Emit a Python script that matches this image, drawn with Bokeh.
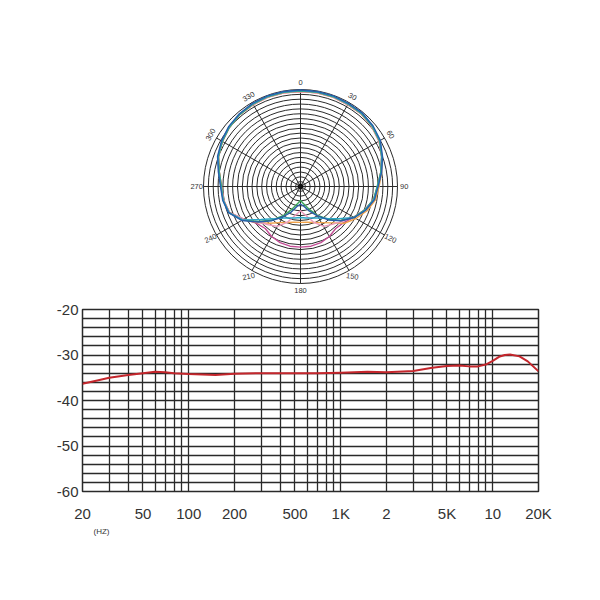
import numpy as np
from bokeh.plotting import figure
from bokeh.layouts import column
from bokeh.models import FixedTicker, Range1d, Title
from bokeh.core.properties import value
from bokeh.embed import file_html
from bokeh.resources import INLINE

# ---------------- polar pattern data (angle clockwise from top, radius in rings 0..20) -------------
polar_angles = list(range(0, 360, 10))
curve_blue = [19.9, 19.9, 19.9, 19.8, 19.8, 19.5, 19.0, 18.0, 17.0,
              16.0, 15.5, 14.3, 12.8, 11.0, 9.0, 7.0, 5.4, 4.2,
              3.6, 4.2, 5.6, 7.2, 9.2, 11.4, 14.0, 15.8, 16.3,
              16.5, 17.2, 18.2, 18.8, 19.3, 19.6, 19.8, 19.9, 19.9]
curve_teal = [19.8, 19.8, 19.8, 19.7, 19.7, 19.4, 18.9, 17.9, 16.9,
              15.9, 15.4, 14.2, 12.8, 10.3, 8.6, 7.5, 6.9, 6.6,
              6.4, 6.6, 6.9, 7.5, 8.7, 10.6, 13.8, 15.7, 16.2,
              16.4, 17.1, 18.1, 18.7, 19.2, 19.5, 19.7, 19.8, 19.8]
curve_green = [19.7, 19.7, 19.7, 19.6, 19.6, 19.3, 18.8, 17.8, 16.8,
               15.8, 15.3, 14.1, 12.7, 10.9, 8.8, 6.8, 4.9, 3.6,
               2.9, 3.6, 4.9, 6.9, 9.0, 11.2, 13.8, 15.7, 16.2,
               16.3, 17.0, 18.0, 18.6, 19.1, 19.4, 19.6, 19.7, 19.7]
curve_pink = [19.6, 19.6, 19.6, 19.5, 19.5, 19.2, 18.7, 17.8, 16.8,
              15.9, 15.3, 14.1, 12.6, 11.2, 10.2, 9.5, 7.8, 6.0,
              5.0, 6.0, 7.8, 9.5, 10.3, 11.4, 13.5, 15.6, 16.1,
              16.3, 17.0, 18.0, 18.6, 19.1, 19.4, 19.5, 19.6, 19.6]
curve_orange = [19.6, 19.6, 19.6, 19.5, 19.5, 19.2, 18.7, 17.9, 17.0,
                16.2, 15.7, 14.6, 13.2, 11.8, 9.8, 8.6, 7.9, 7.5,
                7.4, 7.5, 7.9, 8.6, 9.9, 11.6, 13.6, 15.6, 16.1,
                16.3, 17.0, 18.0, 18.6, 19.1, 19.4, 19.5, 19.6, 19.6]
curve_magenta = [19.6, 19.6, 19.6, 19.5, 19.5, 19.2, 18.7, 17.8, 16.8,
                 15.9, 15.3, 14.1, 12.7, 11.6, 11.3, 11.9, 12.3, 12.5,
                 12.5, 12.5, 12.3, 11.9, 11.3, 11.8, 13.5, 15.6, 16.1,
                 16.3, 17.0, 18.0, 18.6, 19.1, 19.4, 19.5, 19.6, 19.6]
polar_series = [
    (curve_magenta, "#c44d96"),
    (curve_orange, "#f0a24a"),
    (curve_pink, "#ec98bc"),
    (curve_green, "#3aa65a"),
    (curve_teal, "#2ba6c6"),
    (curve_blue, "#2a5ea8"),
]
ring_values = list(range(1, 21))
spoke_angles = [0, 30, 60, 90, 120, 150, 180, 210, 240, 270, 300, 330]
spoke_labels = ["0", "30", "60", "90", "120", "150", "180", "210", "240", "270", "300", "330"]
label_rotation_deg = [0, -30, -60, 0, -25, -8, 0, 12, 25, 0, 60, 30]

# ---------------- frequency response data -------------
freq_hz = [20, 25, 30, 40, 50, 60, 70, 80, 100, 150, 200, 300, 500, 700, 1000, 1500,
           2000, 3000, 4000, 5000, 6000, 7000, 8000, 9000, 10000, 11000, 12000, 13000,
           15000, 17000, 20000]
level_db = [-36.3, -35.6, -35.0, -34.4, -34.0, -33.7, -33.8, -34.0, -34.2, -34.4, -34.1,
            -34.0, -34.0, -34.0, -33.9, -33.7, -33.8, -33.5, -32.8, -32.4, -32.3, -32.5,
            -32.5, -32.1, -31.3, -30.4, -30.0, -29.9, -30.3, -31.4, -33.6]
x_tick_values = [20, 50, 100, 200, 500, 1000, 2000, 5000, 10000, 20000]
x_tick_labels = ["20", "50", "100", "200", "500", "1K", "2", "5K", "10", "20K"]
y_tick_values = [-60, -50, -40, -30, -20]
y_tick_labels = ["-60", "-50", "-40", "-30", "-20"]
x_grid_values = [20, 30, 40, 50, 60, 70, 80, 90, 100, 200, 300, 400, 500, 600, 700, 800, 900,
                 1000, 2000, 3000, 4000, 5000, 6000, 7000, 8000, 9000, 10000, 20000]
y_grid_values = list(range(-60, -19, 2))

FONT = "Liberation Sans"
GRID = "#2a2a2a"

W = 600
BL, BR = 82, 62             # shared left / right borders (frames are aligned in the column)
FW = W - BL - BR            # frame width = 456

# ================= polar figure =================
H1 = 300
ppu = 97.0 / 20.0            # pixels per ring unit
cx_f, cy_f = 300.0 - BL, 186.0  # centre in frame pixels (from frame left / figure top)
p1 = figure(width=W, height=H1, output_backend="svg", toolbar_location=None,
            x_range=Range1d(-cx_f / ppu, (FW - cx_f) / ppu),
            y_range=Range1d(-(H1 - cy_f) / ppu, cy_f / ppu),
            min_border_left=BL, min_border_right=BR,
            min_border_top=0, min_border_bottom=0)
p1.axis.visible = False
p1.grid.visible = False
p1.outline_line_color = None
p1.background_fill_color = "white"

# rings
p1.circle(x=[0] * len(ring_values), y=[0] * len(ring_values), radius=ring_values,
          fill_color=None, line_color=GRID, line_width=1.0)
# spokes
sa = np.radians(spoke_angles)
p1.segment(x0=[0] * 12, y0=[0] * 12, x1=list(20 * np.sin(sa)), y1=list(20 * np.cos(sa)),
           line_color=GRID, line_width=1.0)
p1.scatter(x=[0], y=[0], size=5, color="#111111")

# curves
for vals, col in polar_series:
    a = np.radians(polar_angles + [polar_angles[0]])
    r = np.array(vals + [vals[0]])
    p1.line(x=r * np.sin(a), y=r * np.cos(a), line_color=col, line_width=1.4,
            line_join="round")

# labels
lr = 21.4
p1.text(x=list(lr * np.sin(sa)), y=list(lr * np.cos(sa)), text=spoke_labels,
        angle=list(np.radians(label_rotation_deg)),
        text_font=value(FONT), text_font_size="7.5px", text_color="#333333",
        text_align="center", text_baseline="middle")

# ================= frequency response figure =================
H2 = 300
p2 = figure(width=W, height=H2, output_backend="svg", toolbar_location=None,
            x_axis_type="log", x_range=Range1d(20, 20000), y_range=Range1d(-60, -20),
            min_border_left=BL, min_border_right=BR, min_border_top=9, min_border_bottom=109)
p2.background_fill_color = "white"
p2.outline_line_color = GRID
p2.outline_line_width = 1.5

p2.xgrid.ticker = FixedTicker(ticks=x_grid_values)
p2.ygrid.ticker = FixedTicker(ticks=y_grid_values)
p2.grid.grid_line_color = GRID
p2.grid.grid_line_width = 1.3
p2.grid.grid_line_alpha = 1.0

p2.xaxis.ticker = FixedTicker(ticks=x_tick_values)
p2.xaxis.major_label_overrides = {v: t for v, t in zip(x_tick_values, x_tick_labels)}
p2.yaxis.ticker = FixedTicker(ticks=y_tick_values)
p2.yaxis.major_label_overrides = {v: t for v, t in zip(y_tick_values, y_tick_labels)}
for ax in (p2.xaxis, p2.yaxis):
    ax.axis_line_color = None
    ax.major_tick_line_color = None
    ax.minor_tick_line_color = None
    ax.major_tick_out = 0
    ax.major_tick_in = 0
    ax.minor_tick_out = 0
    ax.minor_tick_in = 0
    ax.major_label_text_font = FONT
    ax.major_label_text_font_size = "15px"
    ax.major_label_text_color = "#333333"
p2.xaxis.major_label_standoff = 13
p2.yaxis.major_label_standoff = 4

p2.line(x=freq_hz, y=level_db, line_color="#c4262c", line_width=2.0, line_join="round")

p2.add_layout(Title(text="(HZ)", align="left", offset=11, standoff=0,
                    text_font=FONT, text_font_size="8px", text_font_style="normal",
                    text_color="#333333"), "below")

layout = column(p1, p2, spacing=0)
open("out.html", "w").write(file_html(layout, INLINE))
